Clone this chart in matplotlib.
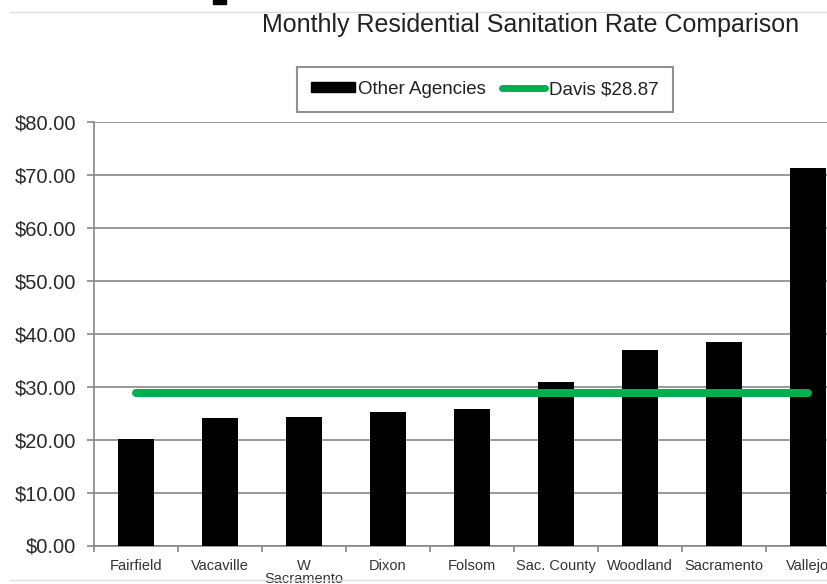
import matplotlib.pyplot as plt
from matplotlib.patches import Rectangle
from matplotlib.lines import Line2D
import numpy as np

plt.rcParams['font.family'] = ['Liberation Sans', 'DejaVu Sans']

# Data
agencies = ['Fairfield', 'Vacaville', 'W\nSacramento', 'Dixon', 'Folsom',
            'Sac. County', 'Woodland', 'Sacramento', 'Vallejo']
rates = [20.1, 24.0, 24.3, 25.3, 25.7, 30.9, 37.0, 38.45, 71.4]
davis_rate = 28.87
y_ticks = [0, 10, 20, 30, 40, 50, 60, 70, 80]

W, H = 828, 584
fig = plt.figure(figsize=(W / 100, H / 100), dpi=100)

# axes run past the right edge, like the cropped original
left, right, bottom, top = 94, 850, 545.5, 122
ax = fig.add_axes([left / W, 1 - bottom / H, (right - left) / W, (bottom - top) / H])

x = np.arange(len(agencies))
bars = ax.bar(x, rates, width=0.42, color='black', zorder=3)
line, = ax.plot([x[0], x[-1]], [davis_rate, davis_rate], color='#00B050',
                linewidth=5.8, solid_capstyle='round', zorder=4)

ax.set_xlim(-0.5, len(agencies) - 0.5)
ax.set_ylim(0, 80)
ax.set_yticks(y_ticks)
ax.set_yticklabels([f'${v:.2f}' for v in y_ticks])
ax.yaxis.grid(True, color='#888888', linewidth=1.2, zorder=0)

ax.set_xticks(x)
ax.set_xticklabels(agencies, linespacing=0.9)
ax.set_xticks(np.arange(-0.5, len(agencies), 1.0), minor=True)
ax.tick_params(axis='x', which='major', length=0, pad=10, labelsize=10.5, labelcolor='#333333')
ax.tick_params(axis='x', which='minor', length=4, width=1.2, color='#888888', direction='out')
ax.tick_params(axis='y', length=5, width=1.2, color='#888888', pad=8,
               labelsize=14.5, labelcolor='#2a2a2a')

for side in ['top', 'right']:
    ax.spines[side].set_visible(False)
for side in ['left', 'bottom']:
    ax.spines[side].set_color('#888888')
    ax.spines[side].set_linewidth(1.2)

handles = [Rectangle((0, 0), 1, 1, color='black'),
           Line2D([0], [0], color='#00B050', linewidth=5, solid_capstyle='round')]
leg = fig.legend(handles, ['Other Agencies', f'Davis ${davis_rate:.2f}'],
                 loc='center', bbox_to_anchor=(485 / W, 1 - 89.5 / H), ncol=2,
                 fontsize=13.5, frameon=True, fancybox=False, shadow=False,
                 handlelength=2.3, handleheight=0.45, handletextpad=0.2,
                 columnspacing=0.85, borderpad=0.75)
leg.get_frame().set_edgecolor('#777777')
leg.get_frame().set_linewidth(1.5)
for t in leg.get_texts():
    t.set_color('#222222')

fig.text(262 / W, 1 - 32 / H, 'Monthly Residential Sanitation Rate Comparison',
         fontsize=18, color='#222222', ha='left', va='baseline')

# slide frame remnants: thin rules at top and bottom, bit of a cut-off heading
fig.add_artist(Line2D([10 / W, 1], [1 - 12 / H] * 2, color='#dddddd', linewidth=1))
fig.add_artist(Line2D([10 / W, 1], [1 - 580 / H] * 2, color='#dddddd', linewidth=1))
fig.add_artist(Rectangle((213 / W, 1 - 4 / H), 13 / W, 4 / H, color='black'))

fig.savefig('out.png', dpi=100)
